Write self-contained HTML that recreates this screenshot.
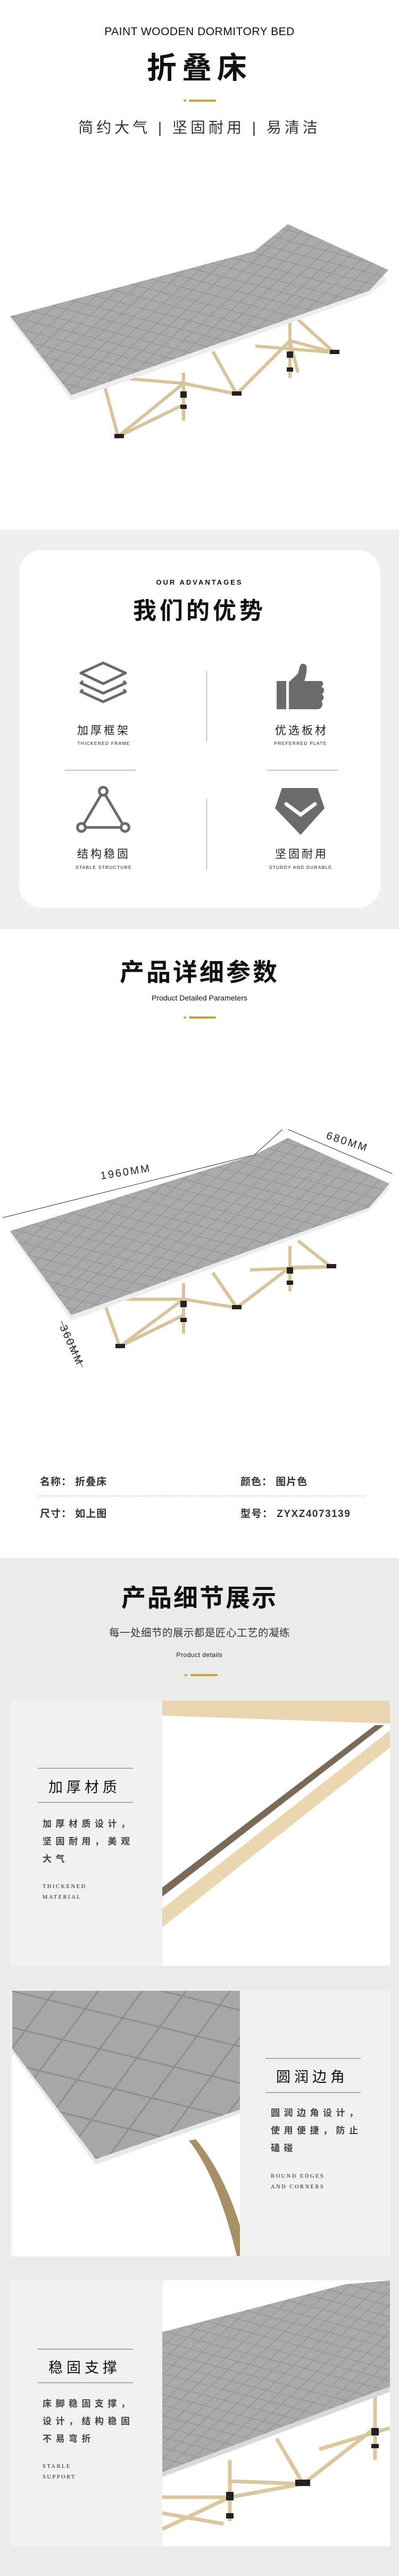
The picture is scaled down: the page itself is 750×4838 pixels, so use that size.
<!DOCTYPE html>
<html><head><meta charset="utf-8">
<style>
*{margin:0;padding:0;box-sizing:border-box}
body{width:750px;height:4838px;position:relative;background:#fff;font-family:"Liberation Sans","Noto Sans CJK SC",sans-serif;color:#222;overflow:hidden}
.a{position:absolute}
.c{position:absolute;left:0;width:750px;text-align:center;white-space:nowrap}
.cn{font-family:"Liberation Sans","Noto Sans CJK SC",sans-serif}
.gold{position:absolute;height:4px;background:#c9a23a;border-radius:2px}
.hl{position:absolute;height:2px;background:#aaa}
.body{position:absolute;font-size:17px;font-weight:bold;color:#444;letter-spacing:7.5px;line-height:33px;font-family:"Liberation Sans","Noto Sans CJK SC",sans-serif}
.en{position:absolute;font-family:"Liberation Serif",serif;font-size:10.5px;letter-spacing:2.5px;line-height:20px;color:#222}
.t2{position:absolute;font-size:27px;letter-spacing:7px;color:#111}
</style></head><body>
<svg width="0" height="0" style="position:absolute">
<defs>
<pattern id="q" width="40" height="22" patternUnits="userSpaceOnUse" patternTransform="rotate(-14)">
<rect width="40" height="22" fill="#a9aaac"/>
<path d="M0 11 L20 0 L40 11 L20 22 Z" fill="none" stroke="#939496" stroke-width="1.3"/>
</pattern>
<pattern id="q2" width="120" height="80" patternUnits="userSpaceOnUse" patternTransform="rotate(-20)">
<rect width="120" height="80" fill="#a6a7a9"/>
<path d="M0 40 L60 0 L120 40 L60 80 Z" fill="none" stroke="#8d8e90" stroke-width="3"/>
</pattern>
</defs>
</svg>

<!-- HERO -->
<div class="c" style="top:48px;font-size:21px;letter-spacing:0.5px;color:#111">PAINT WOODEN DORMITORY BED</div>
<div class="c cn" style="top:96px;font-size:56px;font-weight:bold;letter-spacing:10px;color:#111;line-height:64px">折叠床</div>
<div class="gold" style="left:345px;top:187px;width:5px"></div>
<div class="gold" style="left:355px;top:187px;width:51px"></div>
<div class="c cn" style="top:223px;font-size:28px;letter-spacing:6px;color:#333;line-height:34px">简约大气 | 坚固耐用 | 易清洁</div>

<svg class="a" style="left:0;top:400px" width="750" height="440" viewBox="0 400 750 440">
<g stroke="#d9c49a" stroke-width="6" fill="none">
<path d="M190 700 L222 820 L345 720 L445 740 L545 640 L628 662 L560 600"/>
<path d="M222 820 L345 760 M345 720 L445 740 M345 720 L225 710 M445 740 L400 660 M545 640 L560 700 M445 740 L545 640 M480 650 L628 662"/>
<path d="M345 700 L345 790 M545 600 L545 710"/>
</g>
<g fill="#222"><rect x="339" y="735" width="12" height="12"/><rect x="339" y="760" width="12" height="8"/><rect x="539" y="660" width="12" height="12"/><rect x="539" y="690" width="12" height="8"/>
<rect x="215" y="815" width="18" height="8"/><rect x="436" y="735" width="18" height="8"/><rect x="620" y="657" width="18" height="8"/></g>
<path d="M19 600 L134 752 L694 554 L726 527 L722 516 L134 740 L19 596Z" fill="#ededed"/>
<path d="M19 594 L478 472 L541 421 L730 507 L694 546 L134 742 Z" fill="url(#q)"/>
</svg>

<!-- ADVANTAGES -->
<div class="a" style="left:0;top:995px;width:750px;height:750px;background:#efefef"></div>
<div class="a" style="left:36px;top:1033px;width:679px;height:672px;background:#fff;border-radius:42px"></div>
<div class="c" style="top:1086px;font-size:13px;letter-spacing:3px;color:#111;font-weight:bold">OUR ADVANTAGES</div>
<div class="c cn" style="top:1122px;font-size:44px;font-weight:bold;letter-spacing:6px;color:#111;line-height:52px">我们的优势</div>
<div class="a" style="left:388px;top:1260px;width:1px;height:132px;background:#999"></div>
<div class="a" style="left:388px;top:1500px;width:1px;height:133px;background:#999"></div>
<div class="a" style="left:122px;top:1446px;width:133px;height:1px;background:#999"></div>
<div class="a" style="left:502px;top:1446px;width:133px;height:1px;background:#999"></div>

<svg class="a" style="left:0;top:1230px" width="750" height="350" viewBox="0 1230 750 350">
<g fill="none" stroke="#6b6b6b" stroke-width="5" stroke-linejoin="round">
<path d="M152 1264 L194 1245 L236 1264 L194 1284 Z"/>
<path d="M156 1279 L152 1283 L194 1302 L236 1283 L232 1279"/>
<path d="M156 1295 L152 1299 L194 1318 L236 1299 L232 1295"/>
<circle cx="194" cy="1486" r="7.5"/><circle cx="153" cy="1554" r="7.5"/><circle cx="235" cy="1554" r="7.5"/>
<path d="M190 1493 L158 1547 M198 1493 L230 1547 M161 1554 L227 1554"/>
</g>
<g fill="#6b6b6b">
<rect x="520" y="1279" width="18" height="53"/>
<path d="M543 1281 L560 1265 L564 1250 Q569 1243 576 1250 Q578 1262 572 1279 L604 1279 Q611 1283 604 1290 L608 1292 Q611 1299 605 1304 L608 1307 Q610 1313 604 1317 L606 1320 Q607 1330 598 1332 L543 1332 Z"/>
<path d="M530 1480 L597 1480 L610 1518 L565 1568 L517 1518 Z"/>
</g>
<path d="M538 1510 L565 1530 L592 1510" fill="none" stroke="#fff" stroke-width="7" stroke-linecap="round"/>
</svg>
<div class="a cn" style="left:140px;top:1356px;width:110px;text-align:center;font-size:21px;letter-spacing:4px;color:#222">加厚框架</div>
<div class="a" style="left:130px;top:1391px;width:130px;text-align:center;font-size:8.5px;letter-spacing:1.2px;color:#222">THICKENED FRAME</div>
<div class="a cn" style="left:512px;top:1356px;width:110px;text-align:center;font-size:21px;letter-spacing:4px;color:#222">优选板材</div>
<div class="a" style="left:500px;top:1391px;width:130px;text-align:center;font-size:8.5px;letter-spacing:1.2px;color:#222">PREFERRED PLATE</div>
<div class="a cn" style="left:140px;top:1588px;width:110px;text-align:center;font-size:21px;letter-spacing:4px;color:#222">结构稳固</div>
<div class="a" style="left:125px;top:1624px;width:140px;text-align:center;font-size:8.5px;letter-spacing:1.2px;color:#222">STABLE STRUCTURE</div>
<div class="a cn" style="left:512px;top:1588px;width:110px;text-align:center;font-size:21px;letter-spacing:4px;color:#222">坚固耐用</div>
<div class="a" style="left:490px;top:1624px;width:150px;text-align:center;font-size:8.5px;letter-spacing:1.2px;color:#222">STURDY AND DURABLE</div>

<!-- PARAMS -->
<div class="c cn" style="top:1799px;font-size:46px;font-weight:bold;letter-spacing:4px;color:#111;line-height:54px">产品详细参数</div>
<div class="c" style="top:1866px;font-size:14px;color:#111">Product Detailed Parameters</div>
<div class="gold" style="left:345px;top:1909px;width:5px"></div>
<div class="gold" style="left:355px;top:1909px;width:51px"></div>

<svg class="a" style="left:0;top:2100px" width="750" height="500" viewBox="0 2100 750 500">
<g stroke="#333" stroke-width="1" fill="none">
<path d="M5 2287 L478 2169 L531 2121"/>
<path d="M541 2121 L737 2204"/>
<path d="M115 2481 L155 2568"/>
</g>
<text x="0" y="0" transform="translate(190 2215) rotate(-9)" font-family="Liberation Sans" font-size="20" letter-spacing="3" fill="#222">1960MM</text>
<text x="0" y="0" transform="translate(612 2138) rotate(18)" font-family="Liberation Sans" font-size="20" letter-spacing="3" fill="#222">680MM</text>
<text x="0" y="0" transform="translate(112 2492) rotate(66)" font-family="Liberation Sans" font-size="20" letter-spacing="3" fill="#222">360MM</text>
<g stroke="#d9c49a" stroke-width="6" fill="none">
<path d="M190 2430 L225 2529 L345 2440 L445 2456 L545 2380 L622 2379 L560 2330"/>
<path d="M225 2529 L345 2470 M345 2440 L225 2440 M445 2456 L400 2390 M445 2456 L545 2380 M470 2385 L622 2379"/>
<path d="M345 2410 L345 2505 M545 2340 L545 2425"/>
</g>
<g fill="#222"><rect x="339" y="2443" width="12" height="12"/><rect x="339" y="2475" width="12" height="8"/><rect x="539" y="2380" width="12" height="12"/><rect x="539" y="2405" width="12" height="8"/>
<rect x="217" y="2524" width="18" height="8"/><rect x="436" y="2451" width="18" height="8"/><rect x="614" y="2374" width="18" height="8"/></g>
<path d="M19 2318 L134 2480 L694 2274 L732 2233 L728 2226 L134 2468 L19 2312Z" fill="#ededed"/>
<path d="M19 2312 L478 2169 L541 2137 L732 2223 L694 2268 L134 2470 Z" fill="url(#q)"/>
</svg>

<div class="a cn" style="left:75px;top:2768px;font-size:19px;font-weight:bold;letter-spacing:1px;color:#333">名称：&nbsp;折叠床</div>
<div class="a cn" style="left:452px;top:2768px;font-size:19px;font-weight:bold;letter-spacing:1px;color:#333">颜色：&nbsp;图片色</div>
<div class="a" style="left:70px;top:2809px;width:616px;border-top:1px dashed #bbb"></div>
<div class="a cn" style="left:75px;top:2828px;font-size:19px;font-weight:bold;letter-spacing:1px;color:#333">尺寸：&nbsp;如上图</div>
<div class="a cn" style="left:452px;top:2828px;font-size:19px;font-weight:bold;letter-spacing:1.5px;color:#333">型号：&nbsp;ZYXZ4073139</div>

<!-- DETAILS -->
<div class="a" style="left:0;top:2926px;width:750px;height:1912px;background:#ebebeb"></div>
<div class="c cn" style="top:2974px;font-size:46px;font-weight:bold;letter-spacing:3px;color:#111;line-height:54px">产品细节展示</div>
<div class="c cn" style="top:3050px;font-size:19.5px;color:#333;letter-spacing:0.5px">每一处细节的展示都是匠心工艺的凝练</div>
<div class="c" style="top:3101px;font-size:12px;color:#111;letter-spacing:0.5px">Product details</div>
<div class="gold" style="left:347px;top:3144px;width:5px"></div>
<div class="gold" style="left:358px;top:3144px;width:51px"></div>

<!-- panel 1 -->
<div class="a" style="left:19px;top:3195px;width:715px;height:497px;background:#f1f1f1"></div>
<svg class="a" style="left:305px;top:3194px" width="428" height="498" viewBox="305 3194 428 498">
<rect x="305" y="3194" width="428" height="498" fill="#fff"/>
<path d="M305 3194 L733 3194 L733 3237 L305 3222 Z" fill="#e9d6b0"/>
<path d="M305 3545 L705 3240 L722 3240 L305 3562 Z" fill="#7a6b58"/>
<path d="M305 3585 L733 3250 L733 3282 L305 3620 Z" fill="#ebd7af"/>
</svg>
<div class="hl" style="left:71px;top:3320px;width:179px"></div>
<div class="t2 cn" style="left:91px;top:3335px">加厚材质</div>
<div class="hl" style="left:71px;top:3384px;width:179px"></div>
<div class="body" style="left:80px;top:3409px;width:182px">加厚材质设计，坚固耐用，美观大气</div>
<div class="en" style="left:80px;top:3534px">THICKENED<br>MATERIAL</div>

<!-- panel 2 -->
<div class="a" style="left:19px;top:3739px;width:715px;height:499px;background:#f1f1f1"></div>
<svg class="a" style="left:23px;top:3739px" width="428" height="499" viewBox="23 3739 428 499">
<rect x="23" y="3739" width="428" height="499" fill="#fff"/>
<path d="M355 4020 Q410 4090 445 4237 L451 4237 L451 4180 Q420 4080 368 4018 Z" fill="#a88f66"/>
<path d="M23 3739 L451 3739 L451 3970 L180 4065 L23 3855 Z" fill="#e8e8e8"/>
<path d="M23 3739 L451 3739 L451 3962 L180 4055 L23 3848 Z" fill="url(#q2)"/>
</svg>
<div class="hl" style="left:499px;top:3865px;width:179px"></div>
<div class="t2 cn" style="left:519px;top:3879px">圆润边角</div>
<div class="hl" style="left:499px;top:3929px;width:179px"></div>
<div class="body" style="left:509px;top:3952px;width:182px">圆润边角设计，使用便捷，防止磕碰</div>
<div class="en" style="left:509px;top:4078px">ROUND EDGES<br>AND CORNERS</div>

<!-- panel 3 -->
<div class="a" style="left:19px;top:4283px;width:715px;height:499px;background:#f1f1f1"></div>
<svg class="a" style="left:305px;top:4283px" width="428" height="499" viewBox="305 4283 428 499">
<rect x="305" y="4283" width="428" height="499" fill="#fff"/>
<g stroke="#dcc69c" stroke-width="7" fill="none">
<path d="M305 4750 L432 4690 L570 4665 L705 4560 M305 4690 L432 4690 M432 4660 L570 4665 M520 4580 L570 4665 M600 4600 L733 4560 M305 4720 L420 4740"/>
<path d="M432 4620 L432 4735 M705 4500 L705 4620"/>
</g>
<g fill="#222"><rect x="425" y="4680" width="14" height="16"/><rect x="425" y="4720" width="14" height="10"/><rect x="698" y="4560" width="14" height="14"/><rect x="698" y="4590" width="14" height="8"/><rect x="555" y="4657" width="28" height="12"/></g>
<path d="M305 4641 L305 4652 L733 4492 L733 4480 Z" fill="#d8d8d8"/>
<path d="M305 4380 L650 4290 L733 4283 L733 4482 L305 4643 Z" fill="url(#q)"/>
</svg>
<div class="hl" style="left:71px;top:4411px;width:179px"></div>
<div class="t2 cn" style="left:91px;top:4425px">稳固支撑</div>
<div class="hl" style="left:71px;top:4474px;width:179px"></div>
<div class="body" style="left:80px;top:4498px;width:182px">床脚稳固支撑，设计，结构稳固不易弯折</div>
<div class="en" style="left:80px;top:4623px">STABLE<br>SUPPORT</div>
</body></html>
